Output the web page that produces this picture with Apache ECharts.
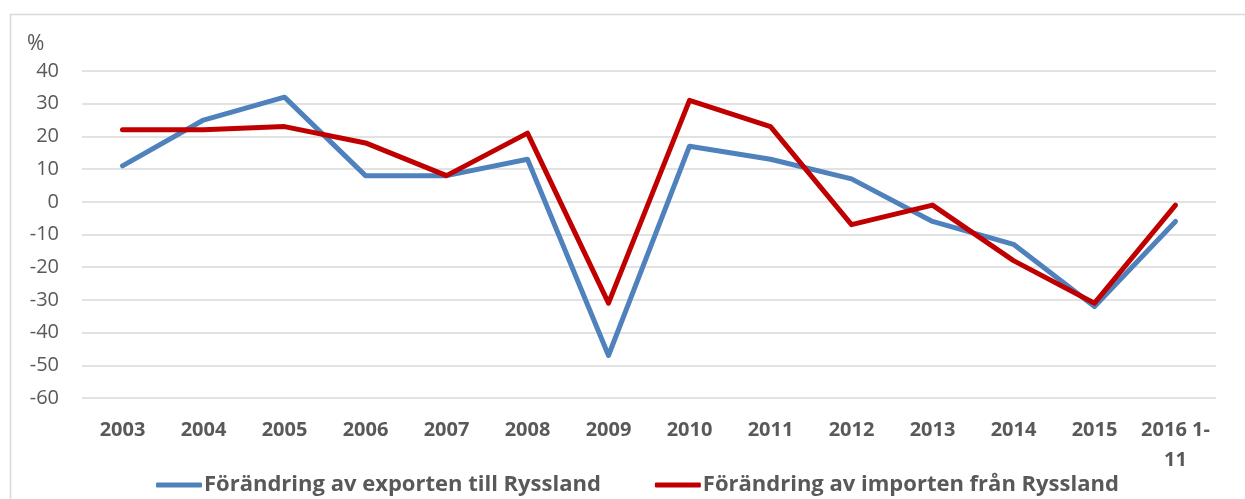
<!DOCTYPE html>
<html>
<head>
<meta charset="utf-8">
<script src="https://cdn.jsdelivr.net/npm/echarts@6/dist/echarts.min.js"></script>
<style>
html, body { margin: 0; padding: 0; background: #fff; }
#chart { width: 1245px; height: 499px; }
</style>
</head>
<body>
<div id="chart"></div>
<script>
var years = ['2003', '2004', '2005', '2006', '2007', '2008', '2009', '2010', '2011', '2012', '2013', '2014', '2015', '2016 1-\n11'];
var exportData = [11, 25, 32, 8, 8, 13, -47, 17, 13, 7, -6, -13, -32, -6];
var importData = [22, 22, 23, 18, 8, 21, -31, 31, 23, -7, -1, -18, -31, -1];
var exportName = 'Förändring av exporten till Ryssland';
var importName = 'Förändring av importen från Ryssland';

var font = '"Open Sans", sans-serif';
var option = {
    backgroundColor: '#fff',
    animation: false,
    graphic: [{
        type: 'rect',
        shape: {x: 10.5, y: 14.5, width: 1260, height: 520},
        style: {fill: 'none', stroke: '#D9D9D9', lineWidth: 1.5},
        silent: true
    }],
    grid: {
        left: 82,
        right: 29,
        top: 71,
        bottom: 101
    },
    legend: {
        left: 151,
        top: 469,
        itemWidth: 46,
        itemHeight: 5,
        itemGap: 54,
        icon: 'roundRect',
        textStyle: {
            color: '#595959',
            fontFamily: font,
            fontWeight: 'bold',
            fontSize: 22,
            padding: [0, 0, 0, -3]
        },
        data: [exportName, importName]
    },
    xAxis: {
        type: 'category',
        data: years,
        boundaryGap: true,
        axisLine: {show: false},
        axisTick: {show: false},
        axisLabel: {
            color: '#595959',
            fontFamily: font,
            fontWeight: 'bold',
            fontSize: 20,
            margin: 17,
            lineHeight: 30,
            interval: 0
        }
    },
    yAxis: {
        type: 'value',
        min: -60,
        max: 40,
        interval: 10,
        name: '%',
        nameLocation: 'end',
        nameGap: 16,
        nameTextStyle: {
            color: '#595959',
            fontFamily: font,
            fontSize: 21,
            align: 'left',
            padding: [0, 0, 0, -55]
        },
        axisLine: {show: false},
        axisTick: {show: false},
        axisLabel: {
            color: '#595959',
            fontFamily: font,
            fontSize: 20,
            margin: 23
        },
        splitLine: {lineStyle: {color: '#D9D9D9', width: 1.5}}
    },
    series: [{
        name: exportName,
        type: 'line',
        data: exportData,
        symbol: 'none',
        color: '#4F81BD',
        lineStyle: {width: 5, color: '#4F81BD', cap: 'round', join: 'round'}
    }, {
        name: importName,
        type: 'line',
        data: importData,
        symbol: 'none',
        color: '#C00000',
        lineStyle: {width: 5, color: '#C00000', cap: 'round', join: 'round'}
    }]
};
var chart = echarts.init(document.getElementById('chart'));
chart.setOption(option);
</script>
</body>
</html>
